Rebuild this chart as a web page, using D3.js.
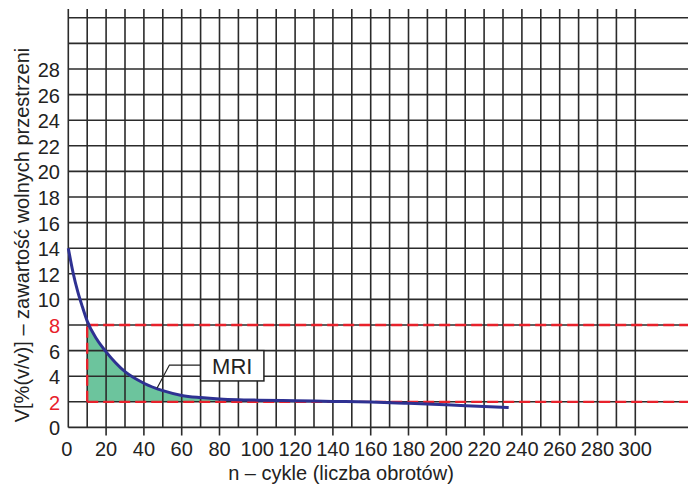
<!DOCTYPE html>
<html>
<head>
<meta charset="utf-8">
<script src="https://cdn.jsdelivr.net/npm/d3@7"></script>
<style>
  body { margin: 0; background: #fff; }
  svg { display: block; font-family: "Liberation Sans", Arial, sans-serif; }
</style>
</head>
<body>
<svg id="chart" width="688" height="486"></svg>
<script>
// curve: n (cycles) vs V [%(v/v)]
const cycles = [0, 2.5, 5, 7.5, 10, 15, 20, 25, 30, 40, 50, 60, 70, 80, 90, 100, 120, 140, 160, 180, 200, 220, 233];
const voids  = [14, 12.1, 10.6, 9.4, 8.3, 6.9, 5.9, 5.05, 4.35, 3.45, 2.87, 2.5, 2.33, 2.22, 2.16, 2.13, 2.08, 2.03, 1.98, 1.88, 1.76, 1.63, 1.55];

const xTicks = d3.range(0, 301, 20);        // labelled x ticks
const yTicks = d3.range(0, 29, 2);          // labelled y ticks
const xGrid = d3.range(0, 301, 10);
const yGrid = d3.range(0, 33, 2);
const limits = [2, 8];                      // red dashed limits
const mriStart = 10;                        // red vertical at n = 10
const mriLabel = "MRI";

const svg = d3.select("#chart");
const W = 688;

const x = d3.scaleLinear().domain([0, 300]).range([68.3, 635.3]);
const y = d3.scaleLinear().domain([0, 28]).range([427.4, 69]);

const data = cycles.map((n, i) => ({ n: n, v: voids[i] }));

// green filled area between curve and the lower limit
const areaData = data.filter(d => d.n >= mriStart && d.n <= 150);
const area = d3.area()
  .x(d => x(d.n))
  .y0(y(limits[0]))
  .y1(d => y(Math.max(d.v, limits[0])))
  .curve(d3.curveMonotoneX);

svg.append("path")
  .datum(areaData)
  .attr("d", area)
  .attr("fill", "#6cc49d");

// grid
const grid = svg.append("g").attr("stroke", "#2b2b2b").attr("stroke-width", 1.6);

grid.selectAll(".h").data(yGrid).enter().append("line")
  .attr("x1", x(0)).attr("x2", W)
  .attr("y1", d => y(d)).attr("y2", d => y(d));

grid.selectAll(".v").data(xGrid).enter().append("line")
  .attr("x1", d => x(d)).attr("x2", d => x(d))
  .attr("y1", 9)
  .attr("y2", d => (d > 0 && d % 20 === 0) ? y(0) + 8 : y(0));

// red dashed limit lines
const red = svg.append("g")
  .attr("stroke", "#e8212b").attr("stroke-width", 2.3)
  .attr("stroke-dasharray", "11,5").attr("fill", "none");

red.selectAll("line.lim").data(limits).enter().append("line")
  .attr("x1", x(mriStart)).attr("x2", W)
  .attr("y1", d => y(d)).attr("y2", d => y(d));

red.append("line")
  .attr("x1", x(mriStart)).attr("x2", x(mriStart))
  .attr("y1", y(limits[0])).attr("y2", y(limits[1]));

// blue curve
const line = d3.line()
  .x(d => x(d.n))
  .y(d => y(d.v))
  .curve(d3.curveMonotoneX);

svg.append("path")
  .datum(data)
  .attr("d", line)
  .attr("fill", "none")
  .attr("stroke", "#2e3192")
  .attr("stroke-width", 3)
  .attr("stroke-linecap", "butt");

// MRI callout
svg.append("path")
  .attr("d", `M${x(70)},${y(4.87)} L${x(53.5)},${y(4.87)} L${x(47)},${y(3.08)}`)
  .attr("fill", "none").attr("stroke", "#222").attr("stroke-width", 1.2);

svg.append("rect")
  .attr("x", x(70)).attr("y", y(6.0))
  .attr("width", x(103.5) - x(70)).attr("height", y(3.63) - y(6.0))
  .attr("fill", "#fff").attr("stroke", "#222").attr("stroke-width", 1.5);

svg.append("text")
  .attr("x", (x(70) + x(103.5)) / 2).attr("y", (y(6.0) + y(3.63)) / 2 + 8)
  .attr("text-anchor", "middle")
  .attr("font-size", 22).attr("fill", "#222")
  .text(mriLabel);

// tick labels
svg.append("g").selectAll("text").data(yTicks).enter().append("text")
  .attr("x", 60).attr("y", d => y(d) + 8)
  .attr("text-anchor", "end").attr("font-size", 20)
  .attr("fill", d => limits.includes(d) ? "#e8212b" : "#222")
  .text(d => d);

svg.append("g").selectAll("text").data(xTicks).enter().append("text")
  .attr("x", d => x(d) - (d === 0 ? 1.5 : 0)).attr("y", 456)
  .attr("text-anchor", "middle").attr("font-size", 20)
  .attr("fill", "#222")
  .text(d => d);

// axis titles
svg.append("text")
  .attr("x", 341).attr("y", 480)
  .attr("text-anchor", "middle").attr("font-size", 20).attr("fill", "#222")
  .text("n – cykle (liczba obrotów)");

svg.append("text")
  .attr("transform", "translate(29,235) rotate(-90)")
  .attr("text-anchor", "middle").attr("font-size", 20).attr("fill", "#222")
  .text("V[%(v/v)] – zawartość wolnych przestrzeni");
</script>
</body>
</html>
